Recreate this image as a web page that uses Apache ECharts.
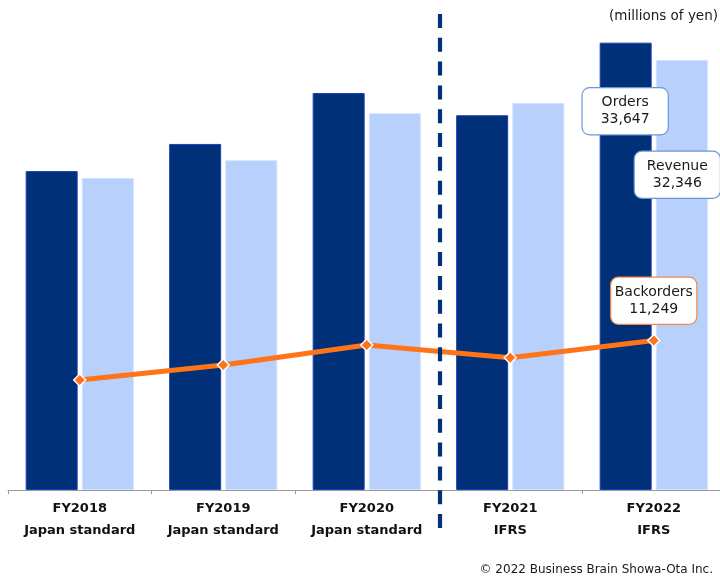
<!DOCTYPE html>
<html>
<head>
<meta charset="utf-8">
<script src="https://cdn.jsdelivr.net/npm/echarts@6/dist/echarts.min.js"></script>
<style>
html,body{margin:0;padding:0;background:#fff;}
#main{width:720px;height:579px;}
</style>
</head>
<body>
<div id="main"></div>
<script>
const years = ['FY2018', 'FY2019', 'FY2020', 'FY2021', 'FY2022'];
const standards = ['Japan standard', 'Japan standard', 'Japan standard', 'IFRS', 'IFRS'];
const orders = [23990, 26030, 29860, 28190, 33647];
const revenue = [23470, 24800, 28340, 29110, 32346];
const backorders = [8270, 9400, 10910, 9950, 11249];
const unitText = '(millions of yen)';
const copyrightText = '\u00a9 2022 Business Brain Showa-Ota Inc.';

const fmt = v => Number(v).toLocaleString('en-US');
const categories = years.map((y, i) => y + '\n' + standards[i]);
const last = years.length - 1;

const boxLabel = (name, border, pos, vAlign) => ({
  show: true,
  position: pos,
  align: 'center',
  verticalAlign: vAlign,
  formatter: p => name + '\n' + fmt(p.value),
  fontFamily: 'DejaVu Sans',
  fontSize: 14,
  lineHeight: 17,
  color: '#1a1a1a',
  backgroundColor: '#ffffff',
  borderColor: border,
  borderWidth: 1.2,
  borderRadius: 7,
  width: 79,
  padding: [6, 3, 6, 3]
});

const chart = echarts.init(document.getElementById('main'), null, {renderer: 'canvas'});
const option = {
  animation: false,
  grid: {left: 8, right: -5.5, top: 11.4, bottom: 89, containLabel: false, outerBoundsMode: 'none'},
  xAxis: {
    type: 'category',
    data: categories,
    axisLine: {lineStyle: {color: '#9a9a9a', width: 1}},
    axisTick: {show: true, length: 4, interval: 0, lineStyle: {color: '#9a9a9a'}},
    axisLabel: {
      interval: 0,
      margin: 8,
      fontFamily: 'DejaVu Sans',
      fontWeight: 'bold',
      fontSize: 13,
      lineHeight: 22,
      color: '#111'
    }
  },
  yAxis: {
    type: 'value', min: 0, max: 36000, show: false,
    splitLine: {show: false}
  },
  series: [
    {
      name: 'Orders', type: 'bar',
      barWidth: 52, barGap: '8%',
      itemStyle: {color: '#003078', borderColor: '#1c3fbf', borderWidth: 1},
      data: orders.map((v, i) => i === last
        ? {value: v, label: boxLabel('Orders', '#6b97cf', ['49%', 68.6], 'middle')}
        : v),
      z: 2
    },
    {
      name: 'Revenue', type: 'bar',
      barWidth: 52,
      itemStyle: {color: '#b7d0fc', borderColor: '#d2e1ff', borderWidth: 1},
      data: revenue.map((v, i) => i === last
        ? {value: v, label: boxLabel('Revenue', '#6b97cf', [21.5, 114.7], 'middle')}
        : v),
      z: 2
    },
    {
      name: 'Backorders', type: 'line',
      symbol: 'diamond', symbolSize: 12,
      lineStyle: {color: '#ff7418', width: 5},
      itemStyle: {color: '#ff7418', borderColor: '#ffffff', borderWidth: 1.5},
      data: backorders.map((v, i) => i === last
        ? {value: v, label: Object.assign(boxLabel('Backorders', '#f0884a', 'top', 'bottom'), {distance: 10})}
        : v),
      z: 5
    }
  ]
};
chart.setOption(option);

const xa = chart.convertToPixel({xAxisIndex: 0}, 2);
const xb = chart.convertToPixel({xAxisIndex: 0}, 3);
const divX = (xa + xb) / 2 + 1.5;
chart.setOption({
  graphic: [
    {
      type: 'line', z: 10,
      shape: {x1: divX, y1: 14, x2: divX, y2: 528},
      style: {stroke: '#003078', lineWidth: 4.2, lineDash: [14, 9.81]}
    },
    {
      type: 'text', right: 2, top: 9,
      style: {text: unitText, font: '13.5px "DejaVu Sans"', fill: '#1a1a1a'}
    },
    {
      type: 'text', right: 7, bottom: 3,
      style: {text: copyrightText, font: '12px "DejaVu Sans"', fill: '#1a1a1a'}
    }
  ]
});
</script>
</body>
</html>
